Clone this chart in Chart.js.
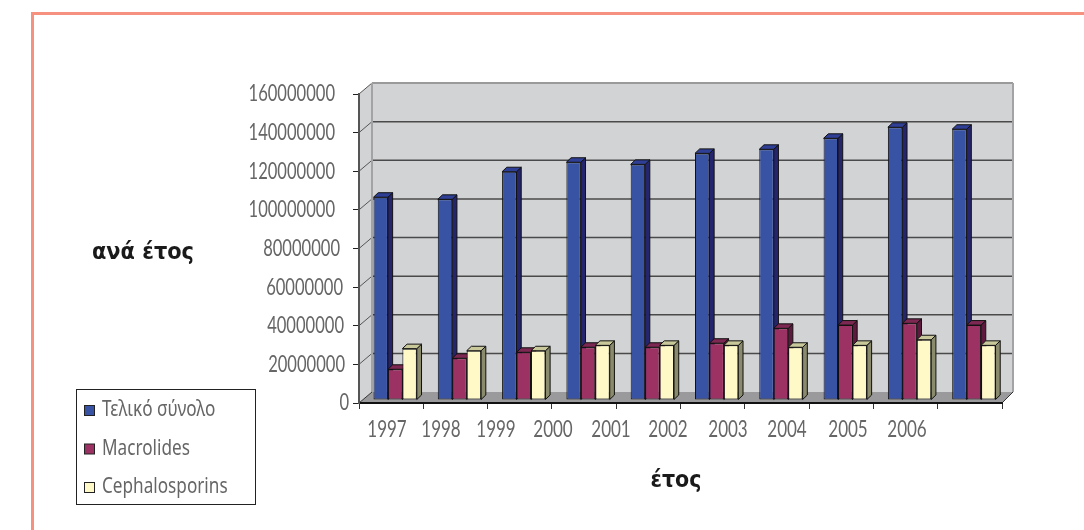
<!DOCTYPE html>
<html>
<head>
<meta charset="utf-8">
<style>
  html, body { margin: 0; padding: 0; background: #fff; overflow: hidden; }
  #wrap { position: relative; width: 1084px; height: 530px; }
  #frame { position: absolute; left: 31px; top: 12px; right: 0; bottom: 0; border-left: 3px solid #f5917e; border-top: 3px solid #f5917e; }
  canvas { position: absolute; left: 0; top: 0; }
</style>
<script src="https://cdn.jsdelivr.net/npm/chart.js@4/dist/chart.umd.min.js"></script>
</head>
<body>
<div id="wrap">
  <div id="frame"></div>
  <canvas id="chart" width="1084" height="530"></canvas>
</div>
<script>
const years = ['1997', '1998', '1999', '2000', '2001', '2002', '2003', '2004', '2005', '2006'];
const totalValues = [105000000, 103900000, 118200000, 123100000, 122000000, 127700000, 129800000, 135500000, 141200000, 140200000];
const macrolideValues = [15900000, 21600000, 24700000, 27300000, 27300000, 29400000, 37100000, 38800000, 39700000, 38800000];
const cephalosporinValues = [26600000, 25500000, 25500000, 28300000, 28300000, 28300000, 27300000, 28300000, 31200000, 28300000];
const yTickLabels = ['0', '20000000', '40000000', '60000000', '80000000', '100000000', '120000000', '140000000', '160000000'];

const seriesNames = ['Τελικό σύνολο', 'Macrolides', 'Cephalosporins'];
const yTitle = 'ανά έτος';
const xTitle = 'έτος';

// the labels in the original are not lined up with the ticks
const xLabelCentres = [387, 441, 496, 553, 611, 668, 728, 787, 848, 907];
const yLabelRight = [349, 345, 344, 343, 340, 335, 335, 335, 335];

const faces = [
  { front: '#3953a4', side: '#25256e', top: '#2f3f96' },
  { front: '#9c3263', side: '#5e1a3e', top: '#7d2852' },
  { front: '#fff9c8', side: '#8a8a6c', top: '#c8c89a' }
];

const tickFont = '23px Lato, "Noto Sans", sans-serif';
const legendFont = '22px "Noto Sans", sans-serif';
const titleFont = 'bold 23px "DejaVu Sans", sans-serif';

// back wall offset from the front plane, bars sit part way in
const wallDx = 13, wallDy = -11;
const barDx = 4, barDy = -3;
const depthX = 4.7, depthY = -4.5;

// text is squeezed sideways, the original face is narrower than what we have
const squeezed = (ctx, text, x, y, ratio) => {
  ctx.fillText(text, x, y, ctx.measureText(text).width * ratio);
};

const walls3d = {
  id: 'walls3d',
  beforeDraw(chart) {
    const { ctx, chartArea: a, scales } = chart;
    const backRight = a.right + 11;
    ctx.save();
    ctx.fillStyle = '#d2d3d5';
    ctx.fillRect(a.left + wallDx, a.top + wallDy, backRight - a.left - wallDx, a.bottom - a.top);
    // left wall
    ctx.beginPath();
    ctx.moveTo(a.left, a.top);
    ctx.lineTo(a.left + wallDx, a.top + wallDy);
    ctx.lineTo(a.left + wallDx, a.bottom + wallDy);
    ctx.lineTo(a.left, a.bottom);
    ctx.closePath();
    ctx.fill();
    // floor
    ctx.fillStyle = '#9a9a9c';
    ctx.beginPath();
    ctx.moveTo(a.left, a.bottom);
    ctx.lineTo(a.left + wallDx, a.bottom + wallDy);
    ctx.lineTo(backRight, a.bottom + wallDy);
    ctx.lineTo(a.right, a.bottom);
    ctx.closePath();
    ctx.fill();
    // gridlines on the wall
    scales.y.ticks.forEach((t, i) => {
      if (i === 0) return;
      const y = scales.y.getPixelForTick(i);
      ctx.strokeStyle = i === scales.y.ticks.length - 1 ? '#9a9a9a' : '#4a4a4a';
      ctx.lineWidth = i === scales.y.ticks.length - 1 ? 2 : 1.5;
      ctx.beginPath();
      ctx.moveTo(a.left + wallDx, y + wallDy);
      ctx.lineTo(backRight, y + wallDy);
      ctx.stroke();
      ctx.strokeStyle = '#555';
      ctx.lineWidth = 1;
      ctx.beginPath();
      ctx.moveTo(a.left, y);
      ctx.lineTo(a.left + wallDx, y + wallDy);
      ctx.stroke();
    });
    // wall edges
    ctx.strokeStyle = '#a3a3a5';
    ctx.lineWidth = 2;
    ctx.beginPath();
    ctx.moveTo(a.left + wallDx, a.top + wallDy);
    ctx.lineTo(a.left + wallDx, a.bottom + wallDy);
    ctx.moveTo(backRight, a.top + wallDy);
    ctx.lineTo(backRight, a.bottom + wallDy);
    ctx.stroke();
    ctx.strokeStyle = '#333';
    ctx.lineWidth = 1;
    ctx.beginPath();
    ctx.moveTo(a.left, a.bottom);
    ctx.lineTo(a.left + wallDx, a.bottom + wallDy);
    ctx.moveTo(a.right, a.bottom);
    ctx.lineTo(backRight, a.bottom + wallDy);
    ctx.stroke();
    ctx.restore();
  },
  beforeDatasetsDraw(chart) {
    const { ctx } = chart;
    ctx.save();
    ctx.translate(barDx, barDy);
    ctx.strokeStyle = '#111';
    ctx.lineWidth = 1;
    chart.data.datasets.forEach((ds, d) => {
      chart.getDatasetMeta(d).data.forEach(bar => {
        const l = bar.x - bar.width / 2, r = bar.x + bar.width / 2;
        ctx.fillStyle = faces[d].side;
        ctx.beginPath();
        ctx.moveTo(r, bar.y);
        ctx.lineTo(r + depthX, bar.y + depthY);
        ctx.lineTo(r + depthX, bar.base + depthY);
        ctx.lineTo(r, bar.base);
        ctx.closePath();
        ctx.fill();
        ctx.stroke();
        ctx.fillStyle = faces[d].top;
        ctx.beginPath();
        ctx.moveTo(l, bar.y);
        ctx.lineTo(l + depthX, bar.y + depthY);
        ctx.lineTo(r + depthX, bar.y + depthY);
        ctx.lineTo(r, bar.y);
        ctx.closePath();
        ctx.fill();
        ctx.stroke();
      });
    });
  },
  afterDatasetsDraw(chart) {
    chart.ctx.restore();
  },
  afterDraw(chart) {
    const { ctx, scales } = chart;
    ctx.save();
    // tick labels
    ctx.font = tickFont;
    ctx.fillStyle = '#666';
    ctx.textBaseline = 'middle';
    ctx.textAlign = 'right';
    scales.y.ticks.forEach((t, i) => {
      squeezed(ctx, t.label, yLabelRight[i], scales.y.getPixelForTick(i), 0.72);
    });
    ctx.textAlign = 'center';
    years.forEach((y, i) => squeezed(ctx, y, xLabelCentres[i], 430, 0.74));
    // axis titles
    ctx.font = titleFont;
    ctx.fillStyle = '#1a1a1a';
    ctx.fillText(yTitle, 143, 253, 102);
    ctx.fillText(xTitle, 676, 481, 51);
    // legend
    ctx.fillStyle = '#fff';
    ctx.fillRect(76, 389, 180, 116);
    ctx.strokeStyle = '#222';
    ctx.lineWidth = 1;
    ctx.strokeRect(76.5, 389.5, 179, 115);
    ctx.textAlign = 'left';
    ctx.font = legendFont;
    chart.data.datasets.forEach((ds, d) => {
      const y = 410 + d * 38.5;
      ctx.fillStyle = faces[d].front;
      ctx.fillRect(84.5, y - 4.5, 10, 10);
      ctx.strokeStyle = '#222';
      ctx.strokeRect(84.5, y - 4.5, 10, 10);
      ctx.fillStyle = '#666';
      squeezed(ctx, ds.label, 102, y, 0.78);
    });
    ctx.restore();
  }
};

const makeSeries = (d, values) => ({
  label: seriesNames[d],
  data: values,
  backgroundColor: faces[d].front,
  borderColor: '#111',
  borderWidth: 1,
  borderSkipped: false,
  clip: false
});

new Chart(document.getElementById('chart'), {
  type: 'bar',
  data: {
    labels: years,
    datasets: [
      makeSeries(0, totalValues),
      makeSeries(1, macrolideValues),
      makeSeries(2, cephalosporinValues)
    ]
  },
  options: {
    responsive: false,
    animation: false,
    layout: { padding: { left: 0, top: 94, right: 82, bottom: 0 } },
    categoryPercentage: 0.674,
    barPercentage: 1,
    plugins: { legend: { display: false }, tooltip: { enabled: false } },
    scales: {
      x: {
        offset: true,
        ticks: { display: false },
        grid: { offset: true, drawOnChartArea: false, color: '#333', tickLength: 6 },
        border: { color: '#111', width: 2 },
        afterFit: s => { s.height = 127; }
      },
      y: {
        min: 0,
        max: 160000000,
        ticks: { display: false, stepSize: 20000000, callback: (v, i) => yTickLabels[i] },
        grid: { drawOnChartArea: false, color: '#222', tickLength: 6 },
        border: { color: '#555', width: 2 },
        afterFit: s => { s.width = 359; }
      }
    }
  },
  plugins: [walls3d]
});
</script>
</body>
</html>
